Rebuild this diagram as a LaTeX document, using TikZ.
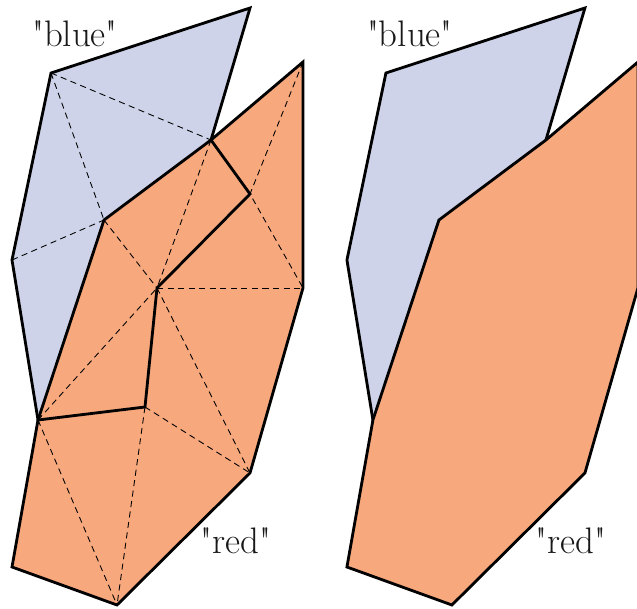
\documentclass[tikz,border=0pt]{standalone}
\usepackage{fontspec}
\definecolor{bluefill}{RGB}{206,211,233}
\definecolor{redfill}{RGB}{247,168,124}
\definecolor{labeltext}{RGB}{25,25,25}

% corners of both polygons, set again in each panel
\newcommand{\polypoints}{%
  \coordinate (b1) at (51,73);
  \coordinate (b2) at (250,8);
  \coordinate (b3) at (211,140);
  \coordinate (b4) at (250,194);
  \coordinate (b5) at (157,288);
  \coordinate (b6) at (145,407);
  \coordinate (b7) at (38,420);
  \coordinate (b8) at (12,260);
  \coordinate (r1) at (104,220);
  \coordinate (r2) at (303,62);
  \coordinate (r3) at (303,288);
  \coordinate (r4) at (250,473);
  \coordinate (r5) at (117,605);
  \coordinate (r6) at (12,567);
}
\newcommand{\qt}[1]{\textquotedbl#1\textquotedbl}

\begin{document}
\begin{tikzpicture}[x=0.02cm,y=-0.02cm,
    edge/.style={line width=1.6pt},
    diag/.style={line width=0.5pt,dash pattern=on 3.5pt off 2.5pt},
    tag/.style={anchor=base,text=labeltext,font=\fontsize{21}{25}\selectfont}]
  \useasboundingbox (0,0) rectangle (637,609);
  \clip (0,0) rectangle (637,609);

  % left: both polygons cut into triangles
  \polypoints
  \fill[bluefill] (b1) -- (b2) -- (b3) -- (b4) -- (b5) -- (b6) -- (b7) -- (b8) -- cycle;
  \fill[redfill] (r1) -- (b3) -- (r2) -- (r3) -- (r4) -- (r5) -- (r6) -- (b7) -- cycle;

  \draw[diag] (b1) -- (b3);
  \draw[diag] (b1) -- (r1);
  \draw[diag] (b8) -- (r1);
  \draw[diag] (r1) -- (b5);
  \draw[diag] (b3) -- (b5);
  \draw[diag] (r2) -- (b4) -- (r3);
  \draw[diag] (b5) -- (r3);
  \draw[diag] (b5) -- (r4);
  \draw[diag] (b6) -- (r4);
  \draw[diag] (b6) -- (r5);
  \draw[diag] (b7) -- (r5);
  \draw[diag] (b7) -- (b5);

  \draw[edge] (r1) -- (b3) -- (r2) -- (r3) -- (r4) -- (r5) -- (r6) -- (b7) -- cycle;
  \draw[edge] (b1) -- (b2) -- (b3) -- (b4) -- (b5) -- (b6) -- (b7) -- (b8) -- cycle;

  \node[tag] (blueL) at (75,46) {\qt{blue}};
  \node[tag] (redL) at (236,553) {\qt{red}};

  % right: red laid over blue
  \begin{scope}[xshift=6.7cm]
    \polypoints
    \draw[edge,fill=bluefill] (b1) -- (b2) -- (b3) -- (b4) -- (b5) -- (b6) -- (b7) -- (b8) -- cycle;
    \draw[edge,fill=redfill] (r1) -- (b3) -- (r2) -- (r3) -- (r4) -- (r5) -- (r6) -- (b7) -- cycle;

    \node[tag] (blueR) at (75,46) {\qt{blue}};
    \node[tag] (redR) at (236,553) {\qt{red}};
  \end{scope}
\end{tikzpicture}
\end{document}
